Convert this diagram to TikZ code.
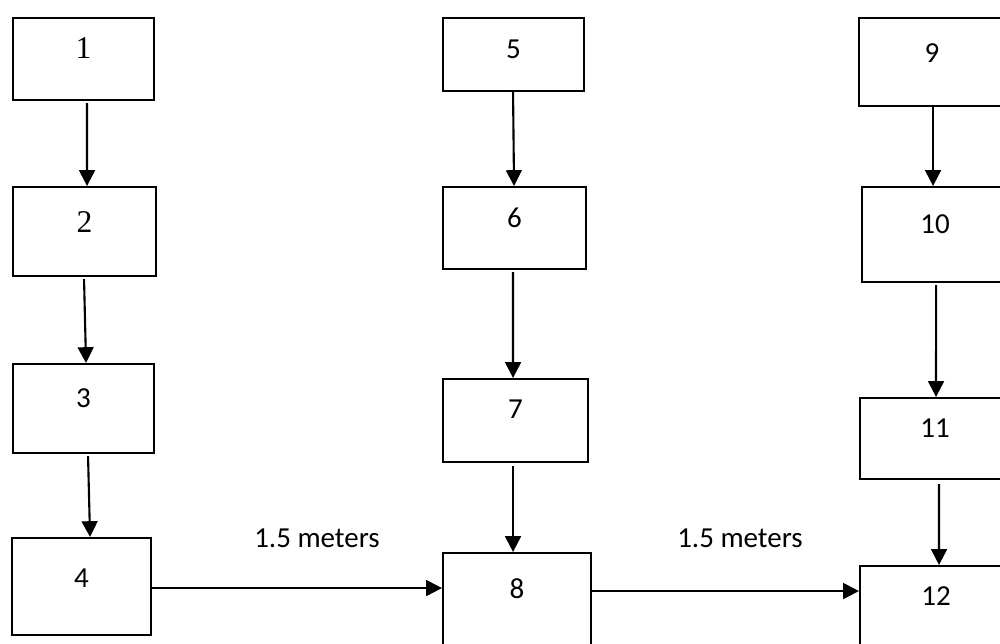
\documentclass[tikz,border=0pt]{standalone}
\usepackage{fontspec}
\setmainfont{Carlito}
\newfontfamily\serifdigits{Liberation Serif}
\usetikzlibrary{arrows.meta}
\begin{document}
\begin{tikzpicture}[x=0.02cm,y=-0.02cm,
  box/.style n args={3}{draw,line width=1.2pt,inner sep=0pt,anchor=north west,
    minimum width=#1cm,text height=#2cm,text depth=#3cm,
    font=\fontsize{16.5}{19}\selectfont},
  serifbox/.style={font={\serifdigits\fontsize{18}{20}\selectfont}},
  arr/.style={line width=1.2pt,-{Triangle[length=9pt,width=9pt]}},
  lbl/.style={font=\fontsize{16.5}{19}\selectfont,inner sep=0pt}]
\useasboundingbox (0,0) rectangle (1000,644);
\fill[white] (0,0) rectangle (1000,644);
\clip (0,0) rectangle (1000,644);
% left column
\node[box={2.82}{0.80}{0.84},serifbox] (n1) at (12,17) {1};
\node[box={2.86}{0.90}{0.88},serifbox] (n2) at (12,186) {2};
\node[box={2.82}{0.86}{0.92}] (n3) at (12,363) {3};
\node[box={2.78}{0.98}{0.96}] (n4) at (11,537) {4};
% middle column
\node[box={2.82}{0.80}{0.66}] (n5) at (442,17) {5};
\node[box={2.86}{0.80}{0.84}] (n6) at (442,186) {6};
\node[box={2.90}{0.78}{0.88}] (n7) at (442,378) {7};
\node[box={2.96}{0.90}{1.66}] (n8) at (442,552) {8};
% right column
\node[box={2.92}{0.88}{0.88}] (n9) at (858,17) {9};
\node[box={2.92}{0.92}{0.98}] (n10) at (861,186) {10};
\node[box={3.00}{0.78}{0.84}] (n11) at (859,397) {11};
\node[box={3.04}{0.78}{1.52}] (n12) at (859,565) {12};
% labels
\node[lbl] (l1) at (317,538) {1.5 meters};
\node[lbl] (l2) at (740,538) {1.5 meters};
% vertical arrows
\draw[arr] ([shift={(3.5,2)}]n1.south) -- ([shift={(2.5,0)}]n2.north);
\draw[arr] ([shift={(-0.5,2)}]n2.south) -- ([shift={(2.5,0)}]n3.north);
\draw[arr] ([shift={(4.5,2)}]n3.south) -- ([shift={(8.5,0)}]n4.north);
\draw[arr] ([shift={(-0.5,0)}]n5.south) -- ([shift={(-0.5,0)}]n6.north);
\draw[arr] ([shift={(-1.5,2)}]n6.south) -- ([shift={(-2.5,0)}]n7.north);
\draw[arr] ([shift={(-2.5,3)}]n7.south) -- ([shift={(-4,0)}]n8.north);
\draw[arr] ([shift={(1,0)}]n9.south) -- ([shift={(-2,0)}]n10.north);
\draw[arr] ([shift={(1,2)}]n10.south) -- ([shift={(1,0)}]n11.north);
\draw[arr] ([shift={(4,4)}]n11.south) -- ([shift={(3,0)}]n12.north);
% horizontal arrows
\draw[arr] ([shift={(0,1.5)}]n4.east) coordinate (s1) -- (s1 -| n8.west);
\draw[arr] ([shift={(0,-26)}]n8.east) coordinate (s2) -- (s2 -| n12.west);
\end{tikzpicture}
\end{document}
